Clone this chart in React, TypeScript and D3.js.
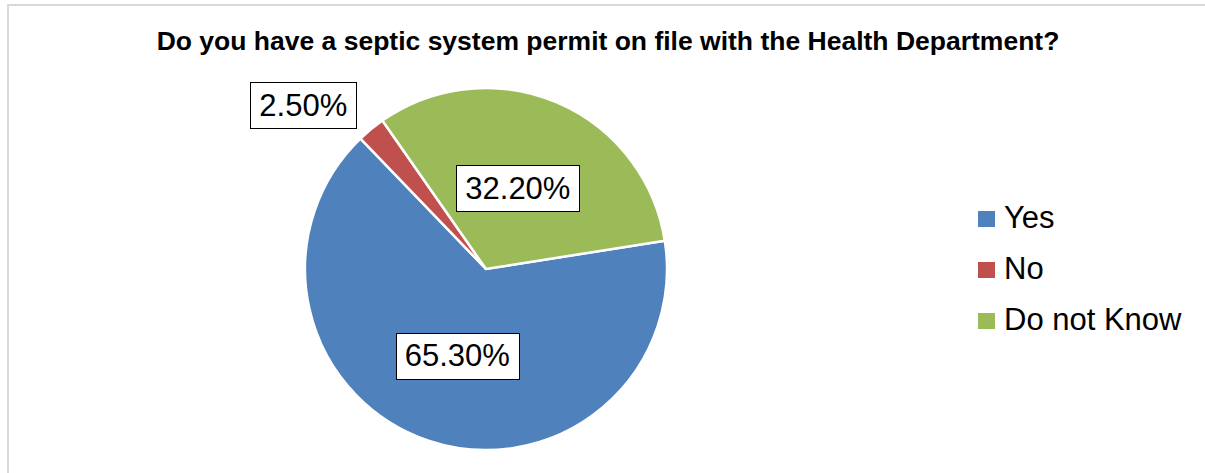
import React, { useEffect, useRef } from "react";
import * as d3 from "d3";

const categories = ["Yes", "No", "Do not Know"];
const values = [65.3, 2.5, 32.2];
const labels = ["65.30%", "2.50%", "32.20%"];
const colors = ["#4F81BD", "#C0504D", "#9BBB59"];
const title = "Do you have a septic system permit on file with the Health Department?";

const W = 1205;
const H = 473;

export default function App() {
  const ref = useRef<SVGSVGElement | null>(null);

  useEffect(() => {
    const svg = d3.select(ref.current);
    svg.selectAll("*").remove();

    // chart frame
    svg.append("rect")
      .attr("x", 8).attr("y", 5)
      .attr("width", W + 20).attr("height", H + 20)
      .attr("fill", "#fff")
      .attr("stroke", "#d9d9d9").attr("stroke-width", 2);

    svg.append("text")
      .attr("x", 608).attr("y", 50)
      .attr("text-anchor", "middle")
      .attr("font-family", "Liberation Sans, Arial, sans-serif")
      .attr("font-weight", "bold")
      .attr("font-size", 26.5)
      .attr("fill", "#000")
      .text(title);

    const cx = 486, cy = 269, r = 181;
    const start = (81 * Math.PI) / 180;
    const pie = d3.pie<number>().sort(null).value((d) => d)
      .startAngle(start).endAngle(start + 2 * Math.PI);
    const arcs = pie(values);
    const arc = d3.arc<d3.PieArcDatum<number>>().innerRadius(0).outerRadius(r);

    const g = svg.append("g").attr("transform", `translate(${cx},${cy})`);
    g.selectAll("path").data(arcs).enter().append("path")
      .attr("d", arc as any)
      .attr("fill", (_, i) => colors[i])
      .attr("stroke", "#fff")
      .attr("stroke-width", 2.5)
      .attr("stroke-linejoin", "miter");

    // label placement: radius factor and angle shift (deg) per slice
    const labelRad = [0.5, 1.36, 0.49];
    const labelShift = [0, -8.5, -2];
    arcs.forEach((a, i) => {
      const mid = (a.startAngle + a.endAngle) / 2 + (labelShift[i] * Math.PI) / 180;
      const rr = labelRad[i] * r;
      const x = rr * Math.sin(mid);
      const y = -rr * Math.cos(mid) + (i === 2 ? 2 : 1);
      const lg = g.append("g");
      const rect = lg.append("rect").attr("fill", "#fff").attr("stroke", "#000").attr("stroke-width", 1);
      const t = lg.append("text")
        .attr("x", x).attr("y", y)
        .attr("text-anchor", "middle")
        .attr("dominant-baseline", "central")
        .attr("font-family", "Liberation Sans, Arial, sans-serif")
        .attr("font-size", 31)
        .attr("fill", "#000")
        .text(labels[i]);
      const bb = (t.node() as SVGTextElement).getBBox();
      const bw = bb.width + 18, bh = 46;
      rect.attr("x", Math.round(x - bw / 2) + 0.5).attr("y", Math.round(y - bh / 2) + 0.5)
        .attr("width", Math.round(bw)).attr("height", bh);
    });

    // legend
    const legend = svg.append("g");
    categories.forEach((c, i) => {
      const y0 = 211 + i * 51;
      legend.append("rect")
        .attr("x", 978).attr("y", y0).attr("width", 17).attr("height", 16)
        .attr("fill", colors[i]);
      legend.append("text")
        .attr("x", 1004).attr("y", y0 + 17)
        .attr("font-family", "Liberation Sans, Arial, sans-serif")
        .attr("font-size", 31)
        .attr("fill", "#000")
        .text(c);
    });
  }, []);

  return (
    <svg
      ref={ref}
      width={W}
      height={H}
      style={{ position: "absolute", left: 0, top: 0, display: "block", background: "#fff" }}
    />
  );
}
